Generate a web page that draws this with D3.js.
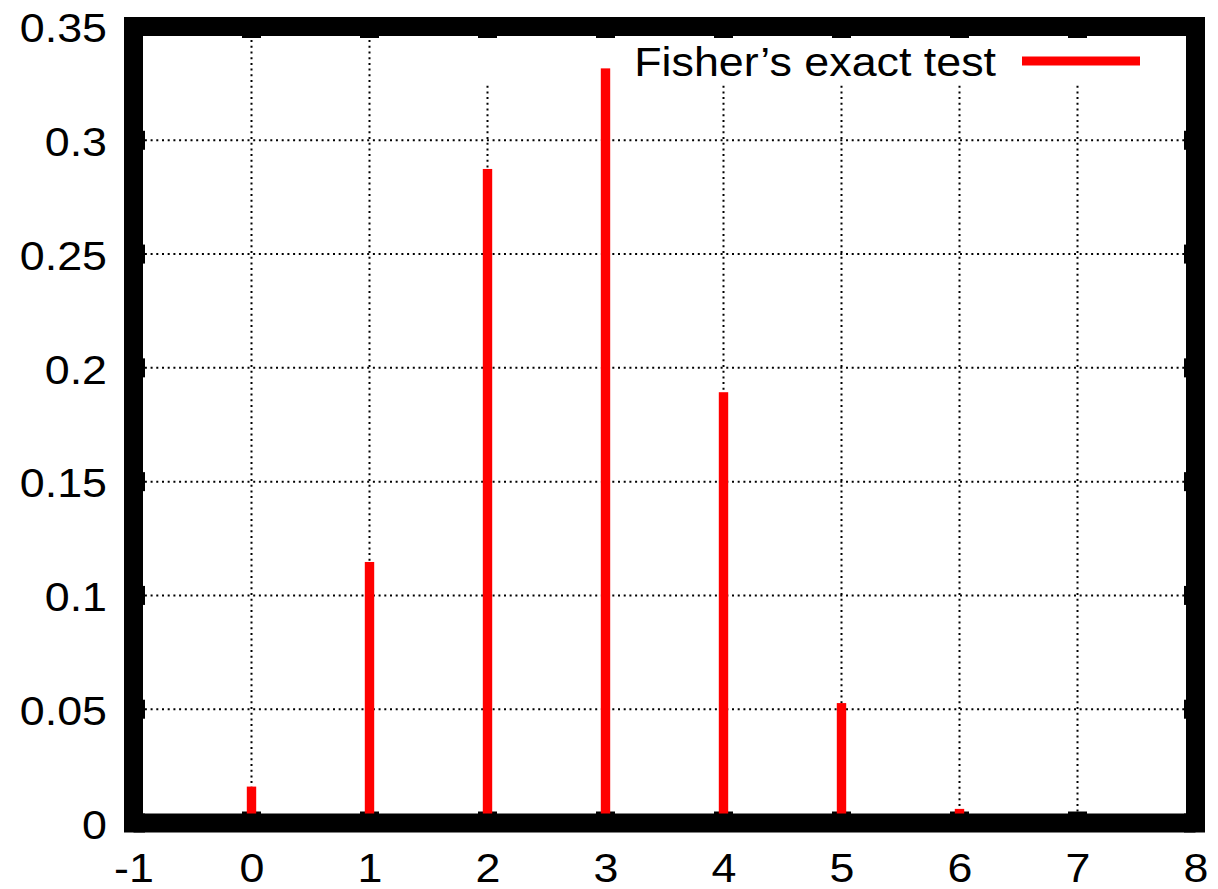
<!DOCTYPE html>
<html>
<head>
<meta charset="utf-8">
<script src="https://cdn.jsdelivr.net/npm/d3@7/dist/d3.min.js"></script>
<style>
  html, body { margin: 0; padding: 0; background: #fff; }
  svg { display: block; }
</style>
</head>
<body>
<svg id="chart" width="1218" height="889"></svg>
<script>
// ---- data ----
const categories = [0, 1, 2, 3, 4, 5, 6, 7];
const probabilities = [0.0160, 0.1147, 0.2874, 0.3316, 0.1893, 0.0527, 0.0062, 0.0002];
const xTickValues = [-1, 0, 1, 2, 3, 4, 5, 6, 7, 8];
const xTickLabels = ["-1", "0", "1", "2", "3", "4", "5", "6", "7", "8"];
const yTickValues = [0, 0.05, 0.1, 0.15, 0.2, 0.25, 0.3, 0.35];
const yTickLabels = ["0", "0.05", "0.1", "0.15", "0.2", "0.25", "0.3", "0.35"];
const seriesName = "Fisher\u2019s exact test";

// ---- layout ----
const svg = d3.select("#chart");
const pL = 133.5, pR = 1195.5, pT = 26.5, pB = 823;
const borderW = 19;
const font = "'Liberation Sans', Arial, Helvetica, sans-serif";
const fs = 40, sx = 1.12;

const x = d3.scaleLinear().domain([-1, 8]).range([pL, pR]);
const y = d3.scaleLinear().domain([0, 0.35]).range([pB, pT]);

// grid
const grid = svg.append("g");
grid.selectAll("line.gx").data(xTickValues.slice(1, -1)).join("line")
  .attr("x1", d => x(d)).attr("x2", d => x(d))
  .attr("y1", pB).attr("y2", pT)
  .attr("stroke", "#000").attr("stroke-width", 2)
  .attr("stroke-dasharray", "2,3.7");
grid.selectAll("line.gy").data(yTickValues.slice(1, -1)).join("line")
  .attr("x1", pL).attr("x2", pR)
  .attr("y1", d => y(d)).attr("y2", d => y(d))
  .attr("stroke", "#000").attr("stroke-width", 2)
  .attr("stroke-dasharray", "2,3.7");

// legend blanking box (gnuplot key background)
svg.append("rect")
  .attr("x", 430).attr("y", pT + borderW / 2)
  .attr("width", 735).attr("height", 82 - (pT + borderW / 2))
  .attr("fill", "#fff");

// tick marks (thick, mostly hidden under border)
const tk = svg.append("g").attr("stroke", "#000").attr("stroke-width", 19);
const tlen = 11.5;
xTickValues.forEach(v => {
  tk.append("line").attr("x1", x(v)).attr("x2", x(v)).attr("y1", pB).attr("y2", pB - tlen);
  tk.append("line").attr("x1", x(v)).attr("x2", x(v)).attr("y1", pT).attr("y2", pT + tlen);
});
yTickValues.forEach(v => {
  tk.append("line").attr("y1", y(v)).attr("y2", y(v)).attr("x1", pL).attr("x2", pL + tlen);
  tk.append("line").attr("y1", y(v)).attr("y2", y(v)).attr("x1", pR).attr("x2", pR - tlen);
});

// impulses
svg.append("g").selectAll("rect").data(categories).join("rect")
  .attr("x", (d) => x(d) - 4.7)
  .attr("width", 9.4)
  .attr("y", (d, i) => y(probabilities[i]))
  .attr("height", (d, i) => y(0) - y(probabilities[i]))
  .attr("fill", "#ff0000");

// border
svg.append("rect")
  .attr("x", pL).attr("y", pT)
  .attr("width", pR - pL).attr("height", pB - pT)
  .attr("fill", "none").attr("stroke", "#000").attr("stroke-width", borderW);

// axes (labels)
const xAxis = svg.append("g").attr("transform", `translate(0,${pB})`)
  .call(d3.axisBottom(x).tickValues(xTickValues).tickFormat((d, i) => xTickLabels[i]).tickSize(0).tickPadding(30.5));
xAxis.select(".domain").remove();
xAxis.selectAll("text").attr("font-family", font).attr("font-size", fs).attr("fill", "#000")
  .attr("transform", `scale(${sx},1)`);

const yPad = 26.5;
const yAxis = svg.append("g").attr("transform", `translate(${pL},0)`)
  .call(d3.axisLeft(y).tickValues(yTickValues).tickFormat((d, i) => yTickLabels[i]).tickSize(0).tickPadding(yPad));
yAxis.select(".domain").remove();
yAxis.selectAll("text").attr("font-family", font).attr("font-size", fs).attr("fill", "#000").attr("dy", "0.38em")
  .attr("x", -yPad / sx).attr("transform", `scale(${sx},1)`);

// legend
svg.append("text")
  .attr("x", 0).attr("y", 0)
  .attr("transform", `translate(996,76) scale(${sx},1)`)
  .attr("text-anchor", "end")
  .attr("font-family", font).attr("font-size", fs).attr("fill", "#000")
  .text(seriesName);
svg.append("line")
  .attr("x1", 1022).attr("x2", 1140).attr("y1", 61).attr("y2", 61)
  .attr("stroke", "#ff0000").attr("stroke-width", 9);
</script>
</body>
</html>
